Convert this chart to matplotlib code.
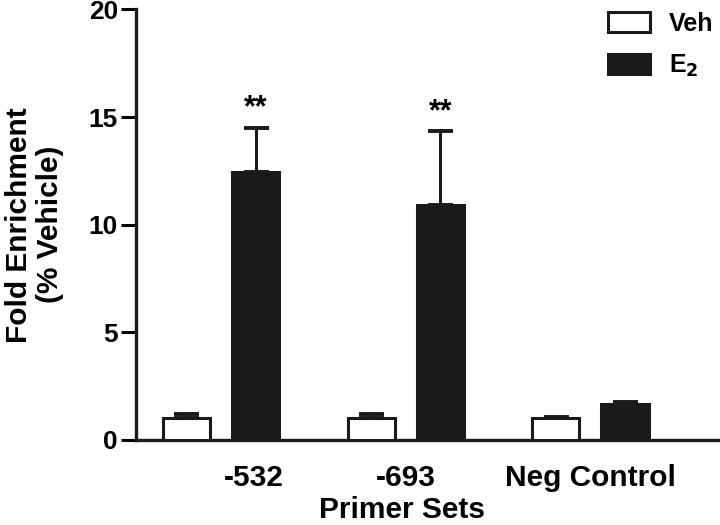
import matplotlib.pyplot as plt
import numpy as np

plt.rcParams['font.family'] = ['Liberation Sans', 'DejaVu Sans']
plt.rcParams['font.weight'] = 'bold'

groups = ["-532", "-693", "Neg Control"]
label_pos = [0.18, 1.0, 2.0]
veh = [1.0, 1.0, 1.0]
veh_err = [0.2, 0.22, 0.08]
e2 = [12.45, 10.9, 1.68]
e2_err = [2.05, 3.45, 0.1]
stars = ["**", "**", ""]

x = np.arange(len(groups))
w = 0.255
off = 0.1875
ink = "#1a1a1a"

fig = plt.figure(figsize=(7.2, 5.25), dpi=100)
ax = fig.add_axes([0.189, 0.162, 0.808, 0.82])

ekw = dict(ecolor=ink, elinewidth=2.2, capsize=9, capthick=2.8)
ax.bar(x - off, veh, w, color="white", edgecolor=ink, linewidth=2.2,
       yerr=[np.zeros(3), veh_err], error_kw=ekw, label="Veh", zorder=3)
ax.bar(x + off, e2, w, color=ink, edgecolor=ink, linewidth=2.2,
       yerr=[np.zeros(3), e2_err], error_kw=ekw, label="E$_2$", zorder=3)

for xi, v, er, s in zip(x, e2, e2_err, stars):
    if s:
        ax.text(xi + off, v + er + 0.2, s, ha="center", va="bottom", fontsize=22, fontweight="bold")

ax.set_xlim(-0.46, 2.69)
ax.set_ylim(0, 20)
ax.set_yticks([0, 5, 10, 15, 20])
ax.set_xticks(label_pos)
ax.set_xticklabels(groups)
ax.tick_params(axis="x", length=0, pad=17, labelsize=21.5)
ax.tick_params(axis="y", length=11, width=2.2, labelsize=19, direction="out", pad=2)
for sp in ["top", "right"]:
    ax.spines[sp].set_visible(False)
for sp in ["left", "bottom"]:
    ax.spines[sp].set_linewidth(2.4)
    ax.spines[sp].set_color(ink)

ax.set_xlabel("Primer Sets", fontsize=21.5, fontweight="bold")
ax.xaxis.set_label_coords(0.457, -0.13)
ax.set_ylabel("Fold Enrichment\n(% Vehicle)", fontsize=21.5, fontweight="bold", linespacing=1.12)
ax.yaxis.set_label_coords(-0.124, 0.5)

ax.legend(loc="upper right", bbox_to_anchor=(1.031, 1.047), frameon=False, fontsize=18,
          handlelength=1.7, handleheight=0.85, labelspacing=0.68, handletextpad=0.75)

fig.savefig("out.png", dpi=100)
